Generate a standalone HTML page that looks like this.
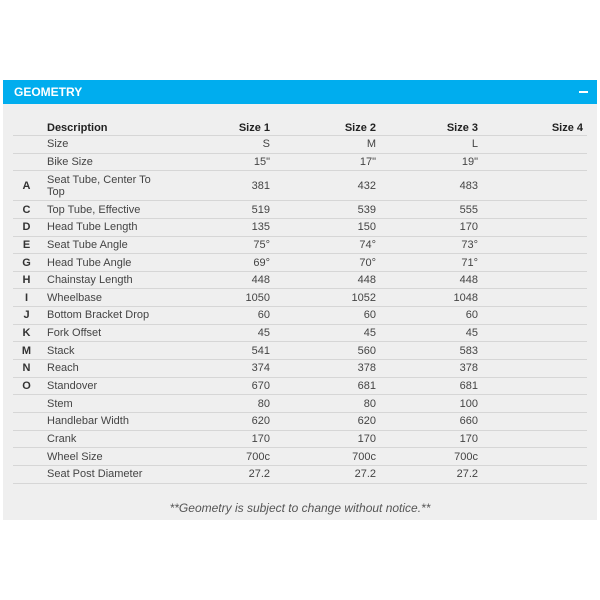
<!DOCTYPE html>
<html><head><style>
body{margin:0;width:600px;height:600px;background:#fff;position:relative;font-family:"Liberation Sans",Arial,sans-serif;overflow:hidden}
.bar{position:absolute;left:3px;top:80px;width:594px;height:24px;background:#00adee;color:#fff;font-weight:bold;font-size:12px;line-height:24px}
.bar span{position:absolute;left:11px}
.bar i{position:absolute;right:9px;top:11px;width:9px;height:2px;background:#fff}
.panel{position:absolute;left:3px;top:104px;width:594px;height:416px;background:#efefef}
table{position:absolute;left:13px;top:121px;width:574px;border-collapse:collapse;table-layout:fixed;font-size:11px;color:#444}
td{border-bottom:1px solid #d6d6d6;padding:0;height:16.65px;line-height:12px;overflow:visible;white-space:nowrap}
td.l{text-align:center;font-weight:bold;color:#333}
td.d{padding-left:7px}
td.v{text-align:right}
tr.h td{font-weight:bold;color:#222;height:14px}
.foot{position:absolute;top:501px;left:0;width:600px;text-align:center;font-style:italic;font-size:12px;color:#555}
</style></head><body>
<div class="bar"><span>GEOMETRY</span><i></i></div>
<div class="panel"></div>
<table>
<colgroup><col style="width:27px"><col style="width:160px"><col style="width:70px"><col style="width:106px"><col style="width:102px"><col style="width:105px"><col style="width:4px"></colgroup>
<tr class="h"><td class="l"></td><td class="d">Description</td><td class="v">Size 1</td><td class="v">Size 2</td><td class="v">Size 3</td><td class="v">Size 4</td><td></td></tr>
<tr><td class="l"></td><td class="d">Size</td><td class="v">S</td><td class="v">M</td><td class="v">L</td><td></td><td></td></tr>
<tr><td class="l"></td><td class="d">Bike Size</td><td class="v">15"</td><td class="v">17"</td><td class="v">19"</td><td></td><td></td></tr>
<tr><td class="l" style="height:29px">A</td><td class="d">Seat Tube, Center To<br>Top</td><td class="v">381</td><td class="v">432</td><td class="v">483</td><td></td><td></td></tr>
<tr><td class="l">C</td><td class="d">Top Tube, Effective</td><td class="v">519</td><td class="v">539</td><td class="v">555</td><td></td><td></td></tr>
<tr><td class="l">D</td><td class="d">Head Tube Length</td><td class="v">135</td><td class="v">150</td><td class="v">170</td><td></td><td></td></tr>
<tr><td class="l">E</td><td class="d">Seat Tube Angle</td><td class="v">75°</td><td class="v">74°</td><td class="v">73°</td><td></td><td></td></tr>
<tr><td class="l">G</td><td class="d">Head Tube Angle</td><td class="v">69°</td><td class="v">70°</td><td class="v">71°</td><td></td><td></td></tr>
<tr><td class="l">H</td><td class="d">Chainstay Length</td><td class="v">448</td><td class="v">448</td><td class="v">448</td><td></td><td></td></tr>
<tr><td class="l">I</td><td class="d">Wheelbase</td><td class="v">1050</td><td class="v">1052</td><td class="v">1048</td><td></td><td></td></tr>
<tr><td class="l">J</td><td class="d">Bottom Bracket Drop</td><td class="v">60</td><td class="v">60</td><td class="v">60</td><td></td><td></td></tr>
<tr><td class="l">K</td><td class="d">Fork Offset</td><td class="v">45</td><td class="v">45</td><td class="v">45</td><td></td><td></td></tr>
<tr><td class="l">M</td><td class="d">Stack</td><td class="v">541</td><td class="v">560</td><td class="v">583</td><td></td><td></td></tr>
<tr><td class="l">N</td><td class="d">Reach</td><td class="v">374</td><td class="v">378</td><td class="v">378</td><td></td><td></td></tr>
<tr><td class="l">O</td><td class="d">Standover</td><td class="v">670</td><td class="v">681</td><td class="v">681</td><td></td><td></td></tr>
<tr><td class="l"></td><td class="d">Stem</td><td class="v">80</td><td class="v">80</td><td class="v">100</td><td></td><td></td></tr>
<tr><td class="l"></td><td class="d">Handlebar Width</td><td class="v">620</td><td class="v">620</td><td class="v">660</td><td></td><td></td></tr>
<tr><td class="l"></td><td class="d">Crank</td><td class="v">170</td><td class="v">170</td><td class="v">170</td><td></td><td></td></tr>
<tr><td class="l"></td><td class="d">Wheel Size</td><td class="v">700c</td><td class="v">700c</td><td class="v">700c</td><td></td><td></td></tr>
<tr><td class="l"></td><td class="d">Seat Post Diameter</td><td class="v">27.2</td><td class="v">27.2</td><td class="v">27.2</td><td></td><td></td></tr>
</table>
<div class="foot">**Geometry is subject to change without notice.**</div>
</body></html>
